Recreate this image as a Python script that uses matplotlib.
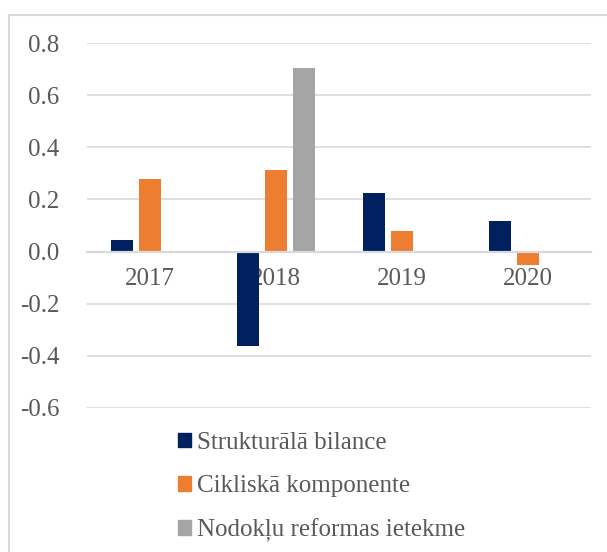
import numpy as np
import matplotlib.pyplot as plt
from matplotlib.patches import Patch
from matplotlib.lines import Line2D

plt.rcParams['font.family'] = 'Liberation Serif'

years = ["2017", "2018", "2019", "2020"]
strukturala = [0.046, -0.364, 0.226, 0.119]
cikliska = [0.28, 0.314, 0.08, -0.05]
reforma = [0.0, 0.706, 0.0, 0.0]

labels = ["Strukturālā bilance", "Cikliskā komponente", "Nodokļu reformas ietekme"]
colors = ["#002060", "#ED7D31", "#A5A5A5"]
txt = "#595959"
grid_c = "#d9d9d9"

W, H = 607, 552
fig = plt.figure(figsize=(W / 100, H / 100), dpi=100)
ax = fig.add_axes([87 / W, 1 - 408 / H, (591 - 87) / W, (408 - 43) / H])

x = np.arange(len(years))
bw = 0.175
off = 0.222
series = [strukturala, cikliska, reforma]
for i, (vals, c) in enumerate(zip(series, colors)):
    v = np.array(vals)
    mask = v != 0
    ax.bar(x[mask] + (i - 1) * off, v[mask], bw, color=c, zorder=2)

ax.set_xlim(-0.5, 3.5)
ax.set_ylim(-0.6, 0.8)
ax.set_yticks(np.arange(-0.6, 0.81, 0.2))
ax.set_yticklabels([f"{t:.1f}" for t in np.arange(-0.6, 0.81, 0.2)])
ax.yaxis.grid(True, color=grid_c, linewidth=1.2, zorder=0)
ax.set_axisbelow(True)

for s in ["top", "right", "left"]:
    ax.spines[s].set_visible(False)
ax.spines["bottom"].set_position(("data", 0))
ax.spines["bottom"].set_color(grid_c)
ax.spines["bottom"].set_linewidth(1.6)
ax.spines["bottom"].set_zorder(3)

ax.set_xticks(x)
ax.set_xticklabels(years)
ax.tick_params(axis="x", length=0, pad=12, labelsize=18, labelcolor=txt)
ax.tick_params(axis="y", length=0, pad=20, labelsize=18, labelcolor=txt)

handles = [Patch(color=c) for c in colors]
fig.legend(handles, labels, loc="upper left", bbox_to_anchor=(178 / W, 1 - 432 / H),
           frameon=False, fontsize=18, labelcolor=txt, handlelength=0.52,
           handleheight=0.52, handletextpad=0.25, labelspacing=0.85, borderpad=0,
           borderaxespad=0)

# chart border (only left and top edges fall inside the image)
fig.add_artist(Line2D([9 / W, 9 / W], [0, 1 - 15 / H], color=grid_c, linewidth=1.5))
fig.add_artist(Line2D([9 / W, 1], [1 - 15 / H, 1 - 15 / H], color=grid_c, linewidth=1.5))

fig.savefig("out.png", dpi=100)
